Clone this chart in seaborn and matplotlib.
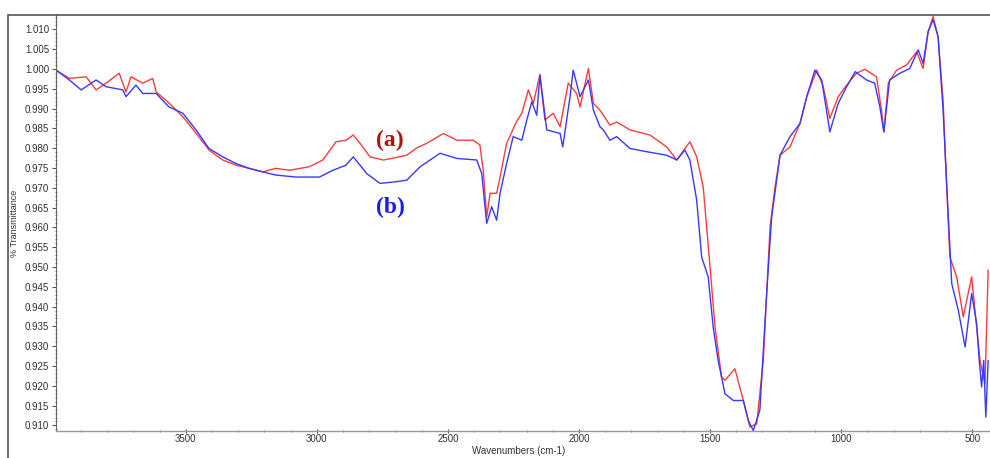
import numpy as np
import pandas as pd
import seaborn as sns
import matplotlib
matplotlib.use("Agg")
import matplotlib.pyplot as plt
from matplotlib.ticker import MultipleLocator, FormatStrFormatter
from matplotlib.patches import Rectangle

# spectrum (a), red
wn_a = [3995, 3944, 3880, 3842, 3804, 3754, 3728, 3709, 3664, 3626, 3613, 3564, 3511, 3461,
        3411, 3359, 3308, 3259, 3206, 3156, 3105, 3029, 2977, 2927, 2889, 2861, 2835, 2797,
        2746, 2700, 2657, 2620, 2581, 2517, 2466, 2403, 2378, 2365, 2352, 2339, 2314, 2301, 2276, 2238,
        2218, 2193, 2174, 2149, 2130, 2098, 2072, 2041, 2009, 1996, 1964, 1945, 1920, 1882,
        1856, 1805, 1729, 1665, 1627, 1577, 1551, 1526, 1513, 1500, 1481, 1456, 1443, 1405,
        1373, 1348, 1322, 1297, 1271, 1252, 1233, 1195, 1157, 1131, 1093, 1068, 1043, 1011,
        979, 941, 909, 865, 846, 837, 820, 788, 750, 712, 687, 668, 649, 630, 611, 598, 585,
        559, 534, 502, 483, 470, 451, 439]
tr_a = [0.9997, 0.9976, 0.9980, 0.9947, 0.9964, 0.9989, 0.9942, 0.9980, 0.9964, 0.9976, 0.9942,
        0.9914, 0.9879, 0.9838, 0.9795, 0.9770, 0.9757, 0.9749, 0.9740, 0.9749, 0.9744, 0.9753,
        0.9770, 0.9816, 0.9820, 0.9833, 0.9812, 0.9778, 0.9770, 0.9776, 0.9782, 0.9800, 0.9812, 0.9837, 0.9820,
        0.9820, 0.9808, 0.9744, 0.9626, 0.9686, 0.9686, 0.9727, 0.9812, 0.9867, 0.9888, 0.9947,
        0.9913, 0.9985, 0.9871, 0.9888, 0.9854, 0.9964, 0.9938, 0.9904, 1.0001, 0.9913, 0.9896,
        0.9858, 0.9866, 0.9846, 0.9833, 0.9803, 0.9770, 0.9816, 0.9778, 0.9702, 0.9601, 0.9500,
        0.9348, 0.9222, 0.9214, 0.9243, 0.9163, 0.9096, 0.9104, 0.9264, 0.9601, 0.9702, 0.9782,
        0.9803, 0.9862, 0.9930, 0.9997, 0.9955, 0.9875, 0.9930, 0.9959, 0.9989, 0.9999, 0.9980,
        0.9896, 0.9841, 0.9964, 0.9997, 1.0010, 1.0043, 1.0001, 1.0094, 1.0132, 1.0081, 0.9921,
        0.9711, 0.9525, 0.9475, 0.9374, 0.9475, 0.9348, 0.9264, 0.9205, 0.9492]

# spectrum (b), blue
wn_b = [3995, 3944, 3899, 3842, 3804, 3740, 3728, 3690, 3664, 3613, 3564, 3511, 3461, 3411,
        3359, 3308, 3259, 3206, 3156, 3079, 2990, 2939, 2889, 2861, 2810, 2759, 2700, 2657, 2606,
        2530, 2466, 2390, 2371, 2352, 2333, 2314, 2301, 2276, 2251, 2218, 2199, 2180, 2161,
        2149, 2123, 2072, 2062, 2034, 2022, 1996, 1964, 1945, 1920, 1907, 1882, 1856, 1805,
        1742, 1665, 1627, 1596, 1577, 1551, 1532, 1507, 1488, 1469, 1443, 1411, 1373, 1354,
        1335, 1310, 1284, 1265, 1233, 1195, 1157, 1131, 1100, 1074, 1043, 1011, 979, 946, 903,
        872, 852, 837, 815, 776, 738, 706, 687, 668, 649, 630, 611, 591, 578, 553, 527, 502,
        483, 473, 464, 456, 448, 439]
tr_b = [0.9997, 0.9972, 0.9947, 0.9972, 0.9955, 0.9947, 0.9930, 0.9959, 0.9938, 0.9938, 0.9904,
        0.9888, 0.9846, 0.9799, 0.9778, 0.9761, 0.9749, 0.9740, 0.9732, 0.9727, 0.9727, 0.9744,
        0.9757, 0.9778, 0.9736, 0.9711, 0.9715, 0.9719, 0.9753, 0.9787, 0.9774, 0.9770, 0.9736, 0.9610,
        0.9652, 0.9618, 0.9686, 0.9761, 0.9829, 0.9820, 0.9871, 0.9917, 0.9883, 0.9985, 0.9846,
        0.9837, 0.9803, 0.9930, 0.9997, 0.9930, 0.9972, 0.9896, 0.9854, 0.9846, 0.9820, 0.9829,
        0.9799, 0.9791, 0.9782, 0.9770, 0.9795, 0.9770, 0.9669, 0.9525, 0.9475, 0.9348, 0.9264,
        0.9180, 0.9163, 0.9163, 0.9113, 0.9087, 0.9138, 0.9433, 0.9626, 0.9782, 0.9829, 0.9862,
        0.9930, 0.9997, 0.9972, 0.9841, 0.9913, 0.9955, 0.9993, 0.9972, 0.9964, 0.9904, 0.9841,
        0.9972, 0.9989, 1.0001, 1.0048, 1.0014, 1.0094, 1.0124, 1.0081, 0.9896, 0.9626, 0.9458,
        0.9391, 0.9298, 0.9433, 0.9357, 0.9264, 0.9197, 0.9264, 0.9121, 0.9264]

x_ticks = [3500, 3000, 2500, 2000, 1500, 1000, 500]

df = pd.concat([
    pd.DataFrame({"wn": wn_a, "T": tr_a, "sample": "a"}),
    pd.DataFrame({"wn": wn_b, "T": tr_b, "sample": "b"}),
], ignore_index=True)

sns.set_theme(style="white")
plt.rcParams["font.family"] = ["Liberation Sans", "DejaVu Sans"]

fig = plt.figure(figsize=(9.9, 4.58), dpi=100)
ax = fig.add_axes([56 / 990, 1 - 431 / 458, 1 - 56 / 990, (431 - 15) / 458])

sns.lineplot(data=df, x="wn", y="T", hue="sample", sort=False, estimator=None,
             palette={"a": "#ff3b3b", "b": "#3838ff"}, linewidth=1.0, legend=False, ax=ax)

ax.set_xlim(3995, 432)
ax.set_ylim(0.9086, 1.0136)
ax.set_xticks(x_ticks)
ax.xaxis.set_minor_locator(MultipleLocator(100))
ax.yaxis.set_major_locator(MultipleLocator(0.005))
ax.yaxis.set_minor_locator(MultipleLocator(0.001))
ax.yaxis.set_major_formatter(FormatStrFormatter("%.3f"))

for s in ["top", "right"]:
    ax.spines[s].set_visible(False)
ax.spines["left"].set_color("#666666")
ax.spines["bottom"].set_color("#999999")
ax.spines["left"].set_linewidth(0.8)
ax.spines["bottom"].set_linewidth(1.0)

ax.tick_params(axis="y", which="major", labelsize=7, labelcolor="#333333", colors="#555555",
               length=3, width=0.8, direction="out", pad=2, left=True)
ax.tick_params(axis="x", which="major", labelsize=7, labelcolor="#333333", colors="#555555",
               length=3, width=0.8, direction="inout", pad=1, bottom=True)
ax.tick_params(axis="both", which="minor", length=2, width=0.6, colors="#666666",
               direction="inout", left=True, bottom=True)

ax.set_xlabel("Wavenumbers (cm-1)", fontsize=7, color="#333333")
ax.set_ylabel("% Transmittance", fontsize=6.5, color="#333333")
ax.xaxis.set_label_coords(0.495, -0.037)
ax.yaxis.set_label_coords(-0.040, 0.5)

ax.text(2721, 0.9820, "(a)", color="#b01212", fontsize=17, fontweight="bold",
        family=["Liberation Serif", "DejaVu Serif"], ha="center", va="center")
ax.text(2721, 0.9651, "(b)", color="#1c1cf0", fontsize=17, fontweight="bold",
        family=["Liberation Serif", "DejaVu Serif"], ha="center", va="center")

fig.patches.append(Rectangle((8 / 990, -0.05), 1.1, 1.05 - 15 / 458,
                             transform=fig.transFigure, fill=False,
                             edgecolor="#555555", linewidth=1.2, clip_on=False))

fig.savefig("out.png", dpi=100)
